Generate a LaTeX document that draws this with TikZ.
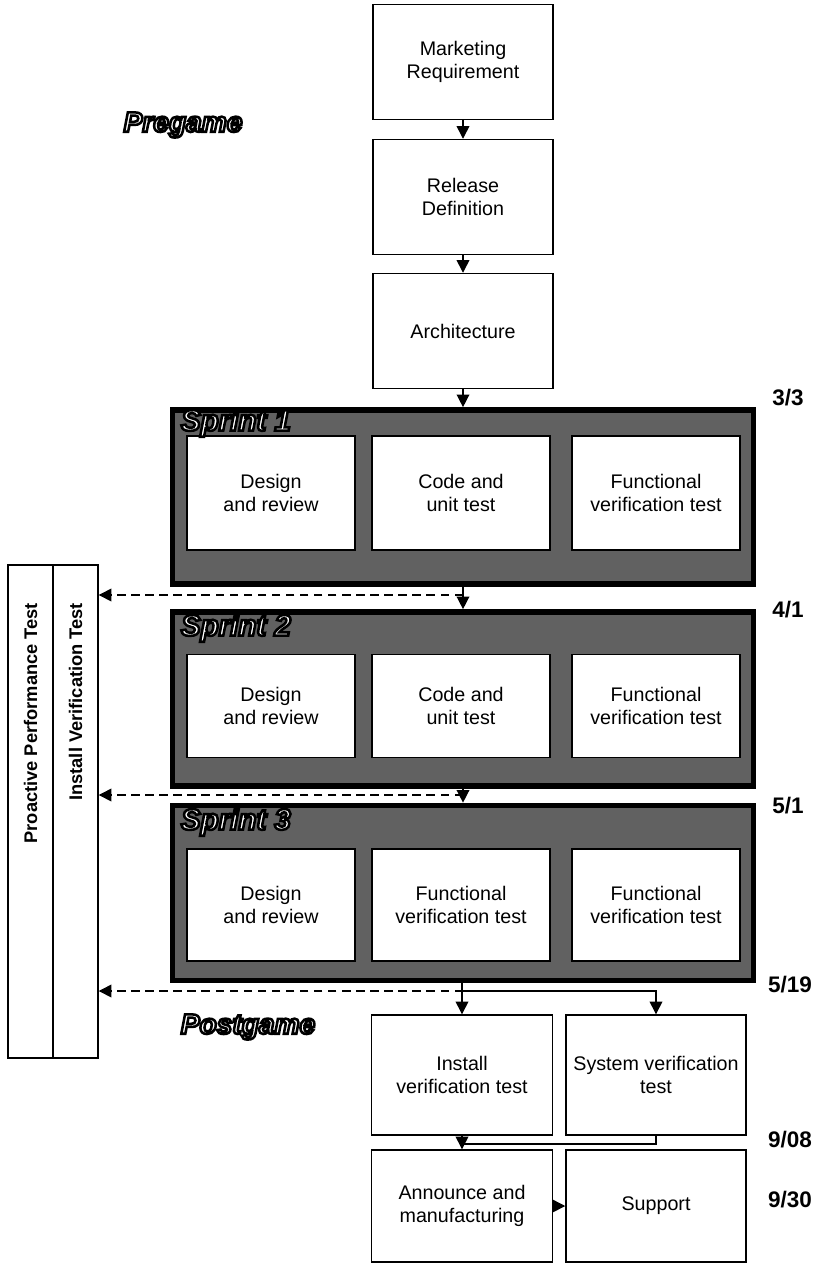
\documentclass[tikz,border=0pt]{standalone}
\usepackage{fontspec}
\setmainfont{Liberation Sans}
\usetikzlibrary{arrows.meta,calc}
% white letters with a black rim
\newcommand{\rimtext}[1]{{\color{white}\special{pdf:literal direct 2 Tr 1.8 w 0 G}#1\special{pdf:literal direct 0 Tr}}}
\tikzset{
    box/.style={draw, fill=white, line width=1pt, minimum width=4.5cm,
                minimum height=2.875cm, inner sep=3pt, align=center,
                font=\fontsize{14}{16}\selectfont},
    task/.style={box, minimum width=4.2cm},
    sprint/.style={draw=black, line width=4pt, fill=black!62,
                   minimum width=14.525cm, inner sep=0pt},
    sprintlabel/.style={anchor=west,
                        font=\fontsize{21}{23}\selectfont\bfseries\itshape},
    phase/.style={font=\fontsize{20}{22}\selectfont\bfseries\itshape},
    date/.style={inner sep=1pt, font=\fontsize{16}{18}\selectfont\bfseries},
    column/.style={draw, line width=1pt, minimum width=1.125cm,
                   minimum height=12.325cm, inner sep=0pt},
    coltext/.style={rotate=90, anchor=east, font=\fontsize{13}{15}\selectfont\bfseries},
    flow/.style={-{Triangle[length=9pt,width=9pt]}, line width=1pt},
    feedback/.style={flow, dash pattern=on 6pt off 4pt},
    link/.style={line width=1pt},
}

\begin{document}
\begin{tikzpicture}[x=0.025cm, y=-0.025cm]
    \useasboundingbox (0,0) rectangle (816,1268);

    % pregame
    \node[phase] (pregame) at (183,125) {\rimtext{Pregame}};
    \node[box] (market) at (463,62) {Marketing\\Requirement};
    \node[box] (release) at (463,197) {Release\\Definition};
    \node[box] (arch) at (463,331) {Architecture};

    % sprints
    \node[sprint, minimum height=4.35cm] (sprint1) at (463,497) {};
    \node[task, minimum height=2.85cm] (design1) at (271,493) {Design\\and review};
    \node[task, minimum width=4.45cm, minimum height=2.85cm] (code1) at (461,493) {Code and\\unit test};
    \node[task, minimum height=2.85cm] (fvt1) at (656,493) {Functional\\verification test};
    \node[sprintlabel] (label1) at (176,423) {\rimtext{Sprint 1}};

    \node[sprint, minimum height=4.35cm] (sprint2) at (463,699) {};
    \node[task, minimum height=2.575cm] (design2) at (271,706) {Design\\and review};
    \node[task, minimum width=4.45cm, minimum height=2.575cm] (code2) at (461,706) {Code and\\unit test};
    \node[task, minimum height=2.575cm] (fvt2) at (656,706) {Functional\\verification test};
    \node[sprintlabel] (label2) at (176,628) {\rimtext{Sprint 2}};

    \node[sprint, minimum height=4.375cm] (sprint3) at (463,893) {};
    \node[task, minimum height=2.8cm] (design3) at (271,905) {Design\\and review};
    \node[task, minimum width=4.45cm, minimum height=2.8cm] (fvt3a) at (461,905) {Functional\\verification test};
    \node[task, minimum height=2.8cm] (fvt3b) at (656,905) {Functional\\verification test};
    \node[sprintlabel] (label3) at (176,822) {\rimtext{Sprint 3}};

    % postgame
    \node[phase] (postgame) at (248,1027) {\rimtext{Postgame}};
    \node[box, minimum width=4.525cm, minimum height=3cm] (install) at (462,1075) {Install\\verification test};
    \node[box, minimum width=4.5cm, minimum height=3cm] (system) at (656,1075) {System verification\\test};
    \node[box, minimum width=4.525cm, minimum height=2.8cm] (announce) at (462,1206) {Announce and\\manufacturing};
    \node[box, minimum width=4.5cm, minimum height=2.8cm] (support) at (656,1206) {Support};

    % test columns
    \node[column] (pptcol) at (30.5,811.5) {};
    \node[column] (ivtcol) at (75.5,811.5) {};
    \node[coltext] (ppttext) at (30.5,598) {Proactive Performance Test};
    \node[coltext] (ivttext) at (75.5,598) {Install Verification Test};

    % dates
    \node[date] (date1) at (788,398) {3/3};
    \node[date] (date2) at (788,610) {4/1};
    \node[date] (date3) at (788,806) {5/1};
    \node[date] (date4) at (790,985) {5/19};
    \node[date] (date5) at (790,1140) {9/08};
    \node[date] (date6) at (790,1200) {9/30};

    \coordinate (d1) at (463,595);
    \coordinate (d2) at (463,795);
    \coordinate (d3) at (463,991);
    \coordinate (merge) at (462,1144);

    \draw[flow] (market) -- (release);
    \draw[flow] (release) -- (arch);
    \draw[flow] (arch) -- (sprint1);
    \draw[flow] (sprint1) -- (sprint2);
    \draw[flow] (sprint2) -- (sprint3);
    \draw[feedback] (d1) -- (d1 -| ivtcol.east);
    \draw[feedback] (d2) -- (d2 -| ivtcol.east);
    \draw[feedback] (d3) -- (d3 -| ivtcol.east);
    \draw[flow] (sprint3.south -| install) -- (install);
    \draw[flow] (d3) -| (system);
    \draw[flow] (install) -- (announce);
    \draw[link] (system) |- (merge);
    \draw[flow] (announce) -- (support);

\end{tikzpicture}
\end{document}
